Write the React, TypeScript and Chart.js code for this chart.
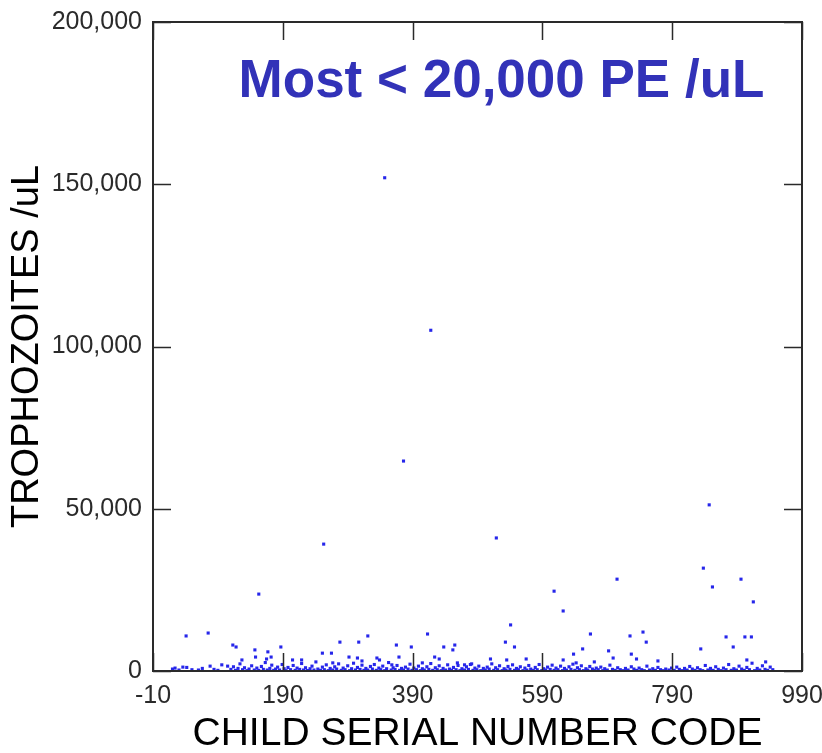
import React, { useEffect, useRef } from "react";
import { Chart, registerables } from "chart.js";

Chart.register(...registerables);

// Child serial number code (x) and trophozoites per uL (y)
const childCodes: number[] = [
  // high outliers
  347, 418, 376, 253, 519, 847, 153, 608, 705, 838, 852, 896, 915, 622,
  // mid-level points
  541, 533, 547, 664, 725, 745, 750, 873, 884, 902, 912, 834, 692, 652, 638, 727, 699, 735, 622, 565, 510, 768, 905, 670, 934, 535, 642,
  41, 75, 113, 118, 147, 148, 167, 172, 165, 127, 187, 205, 219, 251, 265, 278, 307, 321, 292, 305, 312, 267, 365, 388, 369, 413, 438, 455, 452, 424, 431, 405, 335, 339, 358, 36, 24, 96, 105, 78, 459, 470, 481,
  // low band
  20, 30, 42, 50, 60, 66, 84, 90, 110, 114, 117, 121, 124, 128, 131, 135, 138, 142, 146, 150, 153, 157, 160, 163, 166, 170, 173, 176, 179, 182, 185, 189, 192, 195, 198, 202, 206, 209, 212, 216, 219, 222, 225, 228, 232, 235, 238, 241, 244, 248, 251, 254, 257, 260, 263, 267, 270, 273, 276, 280, 283, 286, 290, 293, 296, 299, 302, 305, 309, 312, 315, 318, 321, 325, 328, 331, 334, 338, 341, 344, 347, 350, 353, 357, 360, 363, 366, 370, 373, 376, 379, 383, 386, 389, 392, 396, 399, 402, 405, 408, 412, 415, 418, 421, 425, 428, 431, 434, 437, 441, 444, 447, 450, 453, 457, 460, 463, 466, 470, 473, 476, 479, 483, 486, 489, 492, 495, 499, 502, 505, 508, 512, 515, 518, 521, 524, 528, 531, 534, 537, 540, 544, 547, 550, 553, 556, 560, 563, 566, 569, 572, 576, 579, 582, 585, 589, 592, 595, 598, 602, 605, 608, 611, 614, 618, 621, 624, 627, 631, 634, 637, 640, 644, 647, 650, 653, 657, 660, 663, 667, 670, 673, 676, 680, 683, 686, 690, 694, 698, 702, 706, 710, 714, 718, 722, 727, 731, 735, 739, 743, 747, 751, 755, 760, 764, 768, 772, 776, 780, 785, 789, 793, 797, 801, 805, 809, 813, 817, 821, 825, 829, 833, 837, 841, 845, 849, 853, 857, 861, 865, 869, 873, 877, 881, 885, 889, 893, 897, 901, 905, 909, 913, 917, 921, 925, 929, 933, 937, 941, 945,
];

const trophozoites: number[] = [
  152000, 105000, 64700, 39100, 41000, 51200, 23700, 24600, 28300, 31700, 25900, 28300, 21300, 18500,
  14200, 8900, 7400, 11400, 10800, 12000, 8900, 10500, 7400, 10500, 10500, 6800, 6200, 6800, 5200, 5200, 4000, 3700, 3400, 3700, 3700, 3100, 3400, 2800, 2800, 3400, 2500,
  10800, 11700, 8000, 7400, 6500, 4300, 5900, 4300, 3700, 3400, 7400, 3400, 3400, 5500, 5500, 8900, 8900, 10800, 4300, 4000, 3100, 2500, 8000, 7400, 4300, 11400, 7400, 8000, 6500, 4300, 3700, 2500, 4000, 3400, 1900, 1200, 900, 1900, 1500, 1500, 2500, 1900, 2200,
  600, 300, 1100, 400, 300, 800, 500, 200, 500, 1300, 200, 800, 2200, 400, 1000, 100, 600, 1600, 300, 900, 200, 1400, 500, 2600, 300, 800, 1800, 200, 600, 1200, 300, 2000, 700, 100, 1100, 400, 1700, 200, 900, 500, 2300, 300, 1000, 150, 700, 1500, 300, 2800, 600, 200, 1200, 400, 1900, 100, 800, 300, 1300, 600, 2200, 200, 900, 400, 1600, 100, 700, 2400, 300, 1100, 500, 1800, 200, 800, 300, 1400, 600, 2000, 200, 900, 400, 1500, 100, 700, 2600, 300, 1000, 500, 1700, 200, 800, 300, 1200, 600, 2100, 200, 900, 400, 1500, 100, 700, 300, 1300, 500, 2300, 200, 1000, 400, 1600, 100, 800, 300, 1900, 600, 200, 1100, 400, 1700, 100, 700, 300, 1300, 500, 2000, 200, 900, 400, 1500, 100, 800, 300, 1200, 600, 2200, 200, 1000, 400, 1600, 100, 700, 300, 1400, 500, 1900, 200, 800, 400, 1300, 100, 900, 300, 1700, 600, 200, 1100, 400, 2000, 100, 700, 300, 1200, 500, 1800, 200, 900, 400, 1500, 100, 800, 300, 1300, 500, 2100, 200, 1000, 400, 1600, 100, 700, 300, 1400, 600, 200, 900, 400, 1200, 100, 700, 300, 1800, 500, 200, 1000, 400, 100, 800, 300, 1300, 600, 200, 900, 400, 100, 1500, 300, 700, 200, 1100, 400, 100, 600, 300, 900, 200, 1200, 500, 100, 800, 300, 1400, 600, 200, 1000, 400, 100, 1700, 300, 800, 200, 1300, 500, 100, 900, 400, 2000, 200, 700, 300, 1500, 600, 200, 1100, 400, 2400, 100, 800, 300, 1600, 500, 200, 1200, 400,
];

const xTickValues: number[] = [-10, 190, 390, 590, 790, 990];
const yTickValues: number[] = [0, 50000, 100000, 150000, 200000];

const xTitle = "CHILD SERIAL NUMBER CODE";
const yTitle = "TROPHOZOITES /uL";
const noteText = "Most < 20,000 PE /uL";

const FONT = "'Liberation Sans', Arial, Helvetica, sans-serif";

const framePlugin = {
  id: "frameAndTicks",
  afterDatasetsDraw(chart: any) {
    const { ctx, chartArea, scales } = chart;
    const { left, right, top, bottom } = chartArea;
    const len = 18;
    ctx.save();
    ctx.strokeStyle = "#2a2a2a";
    ctx.lineWidth = 2;
    ctx.beginPath();
    ctx.rect(left, top, right - left, bottom - top);
    ctx.stroke();
    ctx.lineWidth = 1.5;
    ctx.beginPath();
    xTickValues.forEach((v) => {
      const px = Math.round(scales.x.getPixelForValue(v)) + 0.5;
      ctx.moveTo(px, bottom);
      ctx.lineTo(px, bottom - len);
      ctx.moveTo(px, top);
      ctx.lineTo(px, top + len);
    });
    yTickValues.forEach((v) => {
      const py = Math.round(scales.y.getPixelForValue(v)) + 0.5;
      ctx.moveTo(left, py);
      ctx.lineTo(left + len, py);
      ctx.moveTo(right, py);
      ctx.lineTo(right - len, py);
    });
    ctx.stroke();
    // note text
    ctx.fillStyle = "#3232b8";
    ctx.font = `bold 53px ${FONT}`;
    ctx.textAlign = "center";
    ctx.textBaseline = "alphabetic";
    ctx.fillText(noteText, scales.x.getPixelForValue(527), scales.y.getPixelForValue(177000));
    ctx.restore();
  },
};

export default function App() {
  const ref = useRef<HTMLCanvasElement | null>(null);
  useEffect(() => {
    if (!ref.current) return;
    const points = childCodes.map((x, i) => ({ x, y: trophozoites[i] }));
    const chart = new Chart(ref.current, {
      type: "scatter",
      data: {
        datasets: [
          {
            data: points,
            backgroundColor: "#2626ea",
            borderWidth: 0,
            pointStyle: "rect",
            pointRadius: 2.2,
            pointHoverRadius: 2.2,
          },
        ],
      },
      options: {
        animation: false,
        responsive: false,
        devicePixelRatio: 1,
        layout: { padding: { top: 22, right: 20, left: 0, bottom: 0 } },
        plugins: { legend: { display: false }, tooltip: { enabled: false } },
        scales: {
          x: {
            type: "linear",
            min: -10,
            max: 990,
            afterBuildTicks: (s: any) => {
              s.ticks = xTickValues.map((v) => ({ value: v }));
            },
            afterFit: (s: any) => {
              s.height = 82;
              s.paddingLeft = 0;
              s.paddingRight = 0;
            },
            grid: { display: false, drawTicks: false, tickLength: 0 },
            border: { display: false },
            ticks: {
              padding: 10,
              color: "#2a2a2a",
              font: { family: FONT, size: 25 },
              maxRotation: 0,
              autoSkip: false,
              callback: (v: any) => String(v),
            },
            title: {
              display: true,
              text: xTitle,
              color: "#000",
              font: { family: FONT, size: 39 },
              padding: { top: 0, bottom: -5 },
            },
          },
          y: {
            type: "linear",
            min: 0,
            max: 200000,
            afterBuildTicks: (s: any) => {
              s.ticks = yTickValues.map((v) => ({ value: v }));
            },
            afterFit: (s: any) => {
              s.width = 153;
              s.paddingTop = 0;
              s.paddingBottom = 0;
            },
            grid: { display: false, drawTicks: false, tickLength: 0 },
            border: { display: false },
            ticks: {
              padding: 11,
              color: "#2a2a2a",
              font: { family: FONT, size: 25 },
              autoSkip: false,
              callback: (v: any) => Number(v).toLocaleString("en-US"),
            },
            title: {
              display: true,
              text: yTitle,
              color: "#000",
              font: { family: FONT, size: 38 },
              padding: { top: 5, bottom: 0 },
            },
          },
        },
      },
      plugins: [framePlugin],
    });
    return () => chart.destroy();
  }, []);
  return (
    <div style={{ position: "absolute", left: 0, top: 0, width: 822, height: 753, background: "#fff" }}>
      <canvas ref={ref} width={822} height={753} style={{ width: 822, height: 753 }} />
    </div>
  );
}
